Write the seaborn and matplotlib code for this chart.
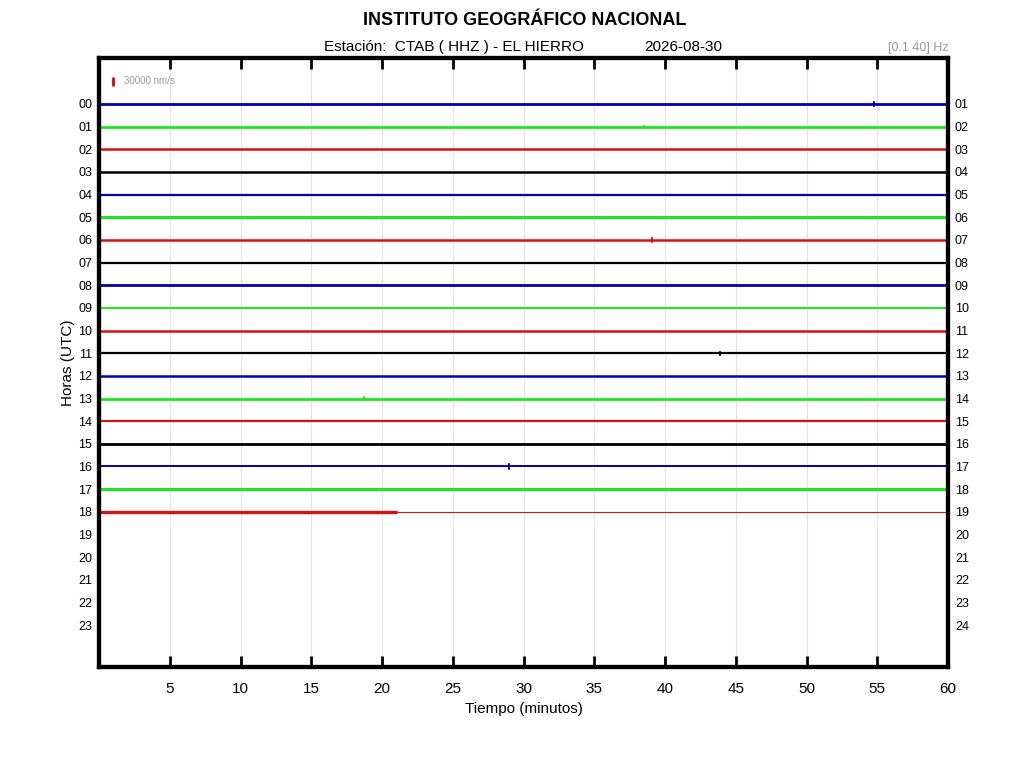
import pandas as pd
import matplotlib
matplotlib.use('Agg')
import matplotlib.pyplot as plt
import seaborn as sns

# Datos del helicorder (una traza por hora)
horas = list(range(19))
fin_minuto = [60] * 18 + [21]
colores_ciclo = ['#0000B4', '#1EE61E', '#D21414', '#000000']
grosor = [2.0, 2.0, 1.8, 1.8, 1.6, 2.2, 1.8, 1.6, 2.0, 1.4, 1.8, 1.6,
          1.8, 2.0, 1.6, 2.0, 1.4, 2.2, 2.4]

# Eventos pequeños visibles (hora, minuto, amplitud relativa)
ev_hora = [0, 6, 16, 11, 13, 1]
ev_min = [54.8, 39.1, 29.0, 43.9, 18.7, 38.5]
ev_amp = [0.07, 0.09, 0.09, 0.06, 0.06, 0.05]

etiquetas_izq = ['%02d' % h for h in range(24)]
etiquetas_der = ['%02d' % (h + 1) for h in range(24)]
ticks_x = [5, 10, 15, 20, 25, 30, 35, 40, 45, 50, 55, 60]

filas = []
for h, fin in zip(horas, fin_minuto):
    filas.append({'hora': h, 'minuto': 0, 'valor': h})
    filas.append({'hora': h, 'minuto': fin, 'valor': h})
df = pd.DataFrame(filas)

sns.set_style('white')
plt.rcParams['font.family'] = ['Liberation Sans', 'DejaVu Sans']
plt.rcParams['text.color'] = 'black'
plt.rcParams['axes.labelcolor'] = 'black'
plt.rcParams['xtick.color'] = 'black'
plt.rcParams['ytick.color'] = 'black'

fig = plt.figure(figsize=(10.24, 7.68), dpi=100)
ax = fig.add_axes([0.0967, 0.1315, 0.8291, 0.793])

for x in range(5, 60, 5):
    ax.axvline(x, color='#e3e3e3', lw=0.8, zorder=0)

for h in horas:
    sub = df[df['hora'] == h]
    sns.lineplot(data=sub, x='minuto', y='valor', color=colores_ciclo[h % 4],
                 lw=grosor[h], ax=ax, legend=False)

# ultima hora: linea fina hasta el final
ax.plot([fin_minuto[18], 60], [18, 18], color=colores_ciclo[18 % 4], lw=0.8)

for h, m, a in zip(ev_hora, ev_min, ev_amp):
    ax.plot([m, m], [h - a, h + a], color=colores_ciclo[h % 4], lw=1.5)

# escala
ax.plot([1.0, 1.0], [-1.15, -0.85], color='#E00000', lw=2)
ax.text(1.8, -1.0, '30000 nm/s', fontsize=7, color='#999999', va='center')

ax.set_xlim(0, 60)
ax.set_ylim(24.85, -2.03)
ax.set_xticks(ticks_x)
ax.set_xticklabels([str(t) for t in ticks_x], fontsize=11)
ax.set_yticks(range(24))
ax.set_yticklabels(etiquetas_izq, fontsize=9)
ax.tick_params(axis='y', length=0, pad=5)
ax.tick_params(axis='x', direction='in', length=8, width=2, top=True, bottom=True, pad=11)

ax2 = ax.twinx()
ax2.set_ylim(24.85, -2.03)
ax2.set_yticks(range(24))
ax2.set_yticklabels(etiquetas_der, fontsize=9)
ax2.tick_params(axis='y', length=0, pad=5)

for a in (ax, ax2):
    for s in a.spines.values():
        s.set_linewidth(3)
        s.set_color('black')

ax.set_xlabel('Tiempo (minutos)', fontsize=11, labelpad=4)
ax.set_ylabel('Horas (UTC)', fontsize=11, labelpad=2)

fig.text(0.512, 0.973, 'INSTITUTO GEOGRÁFICO NACIONAL', ha='center', va='center',
         fontsize=13, fontweight='bold')
fig.text(0.443, 0.939, 'Estación:  CTAB ( HHZ ) - EL HIERRO', ha='center', va='center',
         fontsize=11)
fig.text(0.667, 0.939, '2026-08-30', ha='center', va='center', fontsize=11)
fig.text(0.926, 0.937, '[0.1 40] Hz', ha='right', va='center', fontsize=9, color='#999999')

plt.savefig('out.png', dpi=100)
